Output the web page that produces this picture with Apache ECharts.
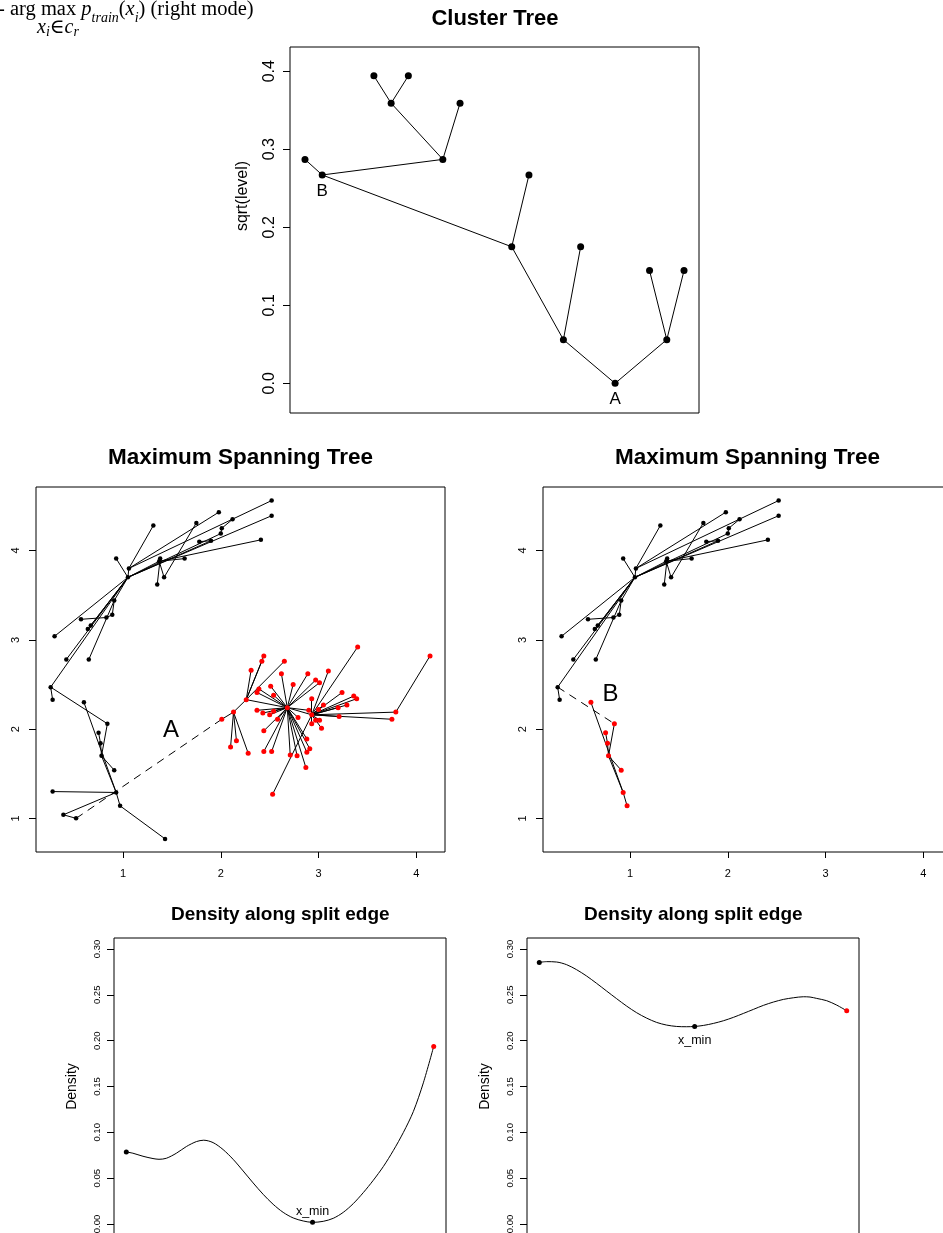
<!DOCTYPE html>
<html>
<head>
<meta charset="utf-8">
<script src="https://cdn.jsdelivr.net/npm/echarts/dist/echarts.min.js"></script>
<style>
  html, body { margin: 0; padding: 0; overflow: hidden; background: #fff; }
  #chart { width: 960px; height: 1300px; }
</style>
</head>
<body>
<div id="chart"></div>
<script>
// ---------------- Cluster tree ----------------
const treeX = [0, 1, 4, 5, 6, 8, 9, 12, 13, 15, 16, 18, 20, 21, 22];
const treeY = [0.287, 0.267, 0.394, 0.359, 0.394, 0.287, 0.359, 0.175, 0.267, 0.056, 0.175, 0.000, 0.1445, 0.056, 0.1445];
const treeEdges = [[0,1],[1,5],[5,3],[3,2],[3,4],[5,6],[1,7],[7,8],[7,9],[9,10],[9,11],[11,13],[13,12],[13,14]];
const treeNodeNames = { 1: 'B', 11: 'A' };
const treeTicks = [0, 0.1, 0.2, 0.3, 0.4];

// ---------------- Maximum spanning tree ----------------
// Points of the upper-left cluster (0-29) and its lower branch (30-41)
const mstBlack = [
  [1.05,3.70],[1.37,3.88],[2.52,4.56],[2.52,4.39],[2.41,4.12],[1.98,4.43],[2.12,4.35],[2.01,4.25],
  [2.00,4.19],[1.90,4.11],[1.78,4.10],[1.75,4.31],[1.63,3.91],[1.31,4.28],[1.38,3.91],[1.42,3.70],
  [1.35,3.62],[0.93,3.91],[1.06,3.80],[0.91,3.44],[0.89,3.28],[0.83,3.25],[0.57,3.23],[0.67,3.16],
  [0.64,3.12],[0.30,3.04],[0.42,2.78],[0.65,2.78],[0.26,2.47],[0.28,2.33],
  [0.60,2.30],[0.84,2.06],[0.75,1.96],[0.77,1.84],[0.78,1.70],[0.91,1.54],[0.93,1.29],[0.97,1.14],
  [0.28,1.30],[0.39,1.04],[0.52,1.00],[1.43,0.77]
];
// Points of the right-hand cluster
const mstRed = [
  [2.01,2.11],[2.13,2.19],[2.10,1.80],[2.16,1.87],[2.28,1.73],[2.26,2.33],[2.31,2.66],[2.42,2.76],
  [2.44,2.82],[2.65,2.76],[2.62,2.62],[2.51,2.48],[2.39,2.45],[2.37,2.41],[2.54,2.38],[2.68,2.24],
  [2.37,2.21],[2.43,2.18],[2.50,2.16],[2.54,2.20],[2.58,2.11],[2.44,1.98],[2.44,1.75],[2.52,1.75],
  [2.71,1.71],[2.78,1.70],[2.74,2.50],[2.89,2.62],[2.97,2.55],[3.01,2.52],[2.79,2.13],[2.90,2.21],
  [2.93,2.34],[2.88,1.89],[2.91,1.78],[2.88,1.74],[2.87,1.57],[2.53,1.27],[2.93,2.16],[2.97,2.10],
  [3.01,2.10],[3.03,2.01],[3.05,2.27],[3.00,2.22],[2.93,2.06],[3.40,2.92],[4.14,2.82],[3.10,2.65],
  [3.24,2.41],[3.36,2.37],[3.39,2.34],[3.29,2.27],[3.20,2.24],[3.21,2.14],[3.79,2.19],[3.75,2.11]
];
const upperEdges = [
  [0,1],[18,2],[0,3],[1,4],[18,5],[6,7],[7,8],[0,8],[10,9],[0,9],[11,15],[15,1],[1,12],[13,18],
  [14,1],[16,14],[17,0],[18,0],[19,0],[20,19],[21,20],[22,21],[23,0],[24,0],[25,0],[26,0],[27,19],
  [28,0],[28,29]
];
const lowerEdges = [[30,36],[31,34],[32,33],[33,34],[34,35],[34,36],[36,37],[36,38],[37,41],[36,39],[39,40]];
const redEdges = [
  [0,1],[1,2],[1,3],[1,4],[1,5],[5,6],[5,7],[5,8],[5,9],[5,15],
  [15,10],[15,11],[15,12],[15,13],[15,14],[15,16],[15,17],[15,18],[15,19],[15,20],[15,21],[15,22],
  [15,23],[15,24],[15,25],[15,26],[15,27],[15,28],[15,29],[15,30],[15,31],[15,38],[15,33],[15,34],
  [15,35],[15,36],
  [38,32],[38,37],[38,39],[38,40],[38,41],[38,42],[38,43],[38,44],[38,45],[38,47],[38,48],[38,49],
  [38,50],[38,51],[38,52],[38,53],[38,54],[38,55],[54,46]
];
const splitEdgeA = [40, 0];   // black point -> red point
const splitEdgeB = [28, 31];  // within the black cluster
const branchStart = 30, branchEnd = 38; // branch split off by edge B
const mstTicks = [1, 2, 3, 4];
const edgeNameA = [1.49, 1.98];
const edgeNameB = [0.80, 2.39];

// ---------------- Density along split edge ----------------
const densLeftT = [0,0.0217,0.0543,0.0869,0.1064,0.1303,0.1629,0.1954,0.2280,0.2519,0.2823,0.3149,0.3474,
  0.3800,0.4126,0.4452,0.4777,0.5103,0.5429,0.5755,0.6059,0.6406,0.6732,0.7058,0.7383,0.7709,0.8035,
  0.8360,0.8686,0.9012,0.9338,0.9663,1.0];
const densLeftD = [0.0786,0.0772,0.0739,0.0714,0.0706,0.0717,0.0772,0.0845,0.0899,0.0914,0.0888,0.0812,
  0.0706,0.0579,0.0448,0.0324,0.0215,0.0127,0.0066,0.0033,0.0018,0.0029,0.0062,0.0127,0.0222,0.0342,
  0.0477,0.0626,0.0801,0.0998,0.1227,0.1540,0.1937];
const densLeftMin = 20;
const densRightT = [0,0.0239,0.0564,0.0889,0.1215,0.1540,0.1866,0.2191,0.2516,0.2842,0.3167,0.3492,
  0.3818,0.4143,0.4469,0.4794,0.5054,0.5336,0.5662,0.5987,0.6312,0.6638,0.6963,0.7289,0.7614,0.7939,
  0.8265,0.8590,0.8807,0.9024,0.9349,0.9675,1.0];
const densRightD = [0.2854,0.2862,0.2858,0.2829,0.2774,0.2705,0.2625,0.2541,0.2458,0.2377,0.2305,0.2246,
  0.2199,0.2170,0.2155,0.2152,0.2155,0.2166,0.2188,0.2217,0.2254,0.2297,0.2341,0.2385,0.2421,0.2450,
  0.2468,0.2479,0.2476,0.2461,0.2436,0.2388,0.2326];
const densRightMin = 16;
const densTicks = [0, 0.05, 0.10, 0.15, 0.20, 0.25, 0.30];

// ---------------- helpers ----------------
const SANS = '"Liberation Sans", Arial, Helvetica, sans-serif';
const SERIF = '"Liberation Serif", "DejaVu Serif", "Times New Roman", serif';

function yAxisDef(grid, min, max, ticks, fmt, fontSize, margin, extra) {
  return Object.assign({
    type: 'value', gridIndex: grid, min: min, max: max,
    axisLine: { show: false, onZero: false }, splitLine: { show: false },
    axisTick: { show: true, customValues: ticks, length: 7, lineStyle: { color: '#000', width: 1 } },
    axisLabel: { show: true, customValues: ticks, formatter: fmt, rotate: 90, fontSize: fontSize,
                 margin: margin, color: '#000', fontFamily: SANS }
  }, extra || {});
}
function xAxisDef(grid, min, max, ticks, fontSize, margin) {
  const shown = !!ticks;
  return {
    type: 'value', gridIndex: grid, min: min, max: max,
    axisLine: { show: false, onZero: false }, splitLine: { show: false },
    axisTick: { show: shown, customValues: ticks || [], length: 6, lineStyle: { color: '#000', width: 1 } },
    axisLabel: { show: shown, customValues: ticks || [], fontSize: fontSize, margin: margin,
                 color: '#000', fontFamily: SANS }
  };
}
function segs(points, edges) {
  return edges.map(e => ({ coords: [points[e[0]], points[e[1]]] }));
}
function linesSeries(ax, data, dashed) {
  return {
    type: 'lines', coordinateSystem: 'cartesian2d', xAxisIndex: ax, yAxisIndex: ax,
    data: data, silent: true, z: 2,
    lineStyle: { color: '#000', width: 1, opacity: 1, type: dashed ? [8, 6] : 'solid' }
  };
}
function pointSeries(ax, data, color, size) {
  return {
    type: 'scatter', xAxisIndex: ax, yAxisIndex: ax, data: data, silent: true, z: 3,
    symbol: 'circle', symbolSize: size, itemStyle: { color: color, opacity: 1 }
  };
}

// ---------------- series ----------------
const series = [];

// Cluster tree
const treePts = treeX.map((x, i) => [x, treeY[i]]);
series.push(linesSeries(0, segs(treePts, treeEdges), false));
series.push({
  type: 'scatter', xAxisIndex: 0, yAxisIndex: 0, silent: true, z: 3,
  symbol: 'circle', symbolSize: 7, itemStyle: { color: '#000', opacity: 1 },
  data: treePts.map((p, i) => treeNodeNames[i] ? {
    value: p,
    label: { show: true, formatter: treeNodeNames[i], position: 'bottom', distance: 4,
             fontSize: 17, color: '#000', fontFamily: SANS }
  } : { value: p })
});

// Left MST: full cluster, split edge A dashed
series.push(linesSeries(1, segs(mstBlack, upperEdges.concat([splitEdgeB], lowerEdges)), false));
series.push(linesSeries(1, segs(mstRed, redEdges), false));
series.push(linesSeries(1, [{ coords: [mstBlack[splitEdgeA[0]], mstRed[splitEdgeA[1]]] }], true));
series.push(pointSeries(1, mstBlack, '#000', 4.5));
series.push(pointSeries(1, mstRed, '#ff0000', 5));

// Right MST: black cluster only, split edge B dashed
const rightBlack = mstBlack.slice(0, branchStart);
const rightRed = mstBlack.slice(branchStart, branchEnd);
const rightLower = lowerEdges.filter(e => e[0] < branchEnd && e[1] < branchEnd);
series.push(linesSeries(2, segs(mstBlack, upperEdges.concat(rightLower)), false));
series.push(linesSeries(2, segs(mstBlack, [splitEdgeB]), true));
series.push(pointSeries(2, rightBlack, '#000', 4.5));
series.push(pointSeries(2, rightRed, '#ff0000', 5));

// Edge names
function nameSeries(ax, pos, text) {
  return {
    type: 'scatter', xAxisIndex: ax, yAxisIndex: ax, silent: true, z: 4,
    symbolSize: 0, data: [pos], itemStyle: { opacity: 1 },
    label: { show: true, position: 'inside', formatter: text, fontSize: 24, color: '#000', fontFamily: SANS }
  };
}
series.push(nameSeries(1, edgeNameA, 'A'));
series.push(nameSeries(2, edgeNameB, 'B'));

// Density curves
function densitySeries(ax, ts, ds, minIdx, labelPos, labelDist) {
  const pts = ts.map((t, i) => [t, ds[i]]);
  const last = pts.length - 1;
  return [
    { type: 'line', xAxisIndex: ax, yAxisIndex: ax, data: pts, smooth: 0.3, showSymbol: false,
      symbol: 'none', silent: true, z: 2, lineStyle: { color: '#000', width: 1 } },
    { type: 'scatter', xAxisIndex: ax, yAxisIndex: ax, silent: true, z: 3, symbolSize: 5,
      itemStyle: { opacity: 1 },
      data: [
        { value: pts[0], itemStyle: { color: '#000' } },
        { value: pts[minIdx], itemStyle: { color: '#000' },
          label: { show: true, formatter: 'x_min', position: labelPos, distance: labelDist,
                   fontSize: 12.5, color: '#000', fontFamily: SANS } },
        { value: pts[last], itemStyle: { color: '#ff0000' } }
      ] }
  ];
}
series.push(...densitySeries(3, densLeftT, densLeftD, densLeftMin, 'top', 2));
series.push(...densitySeries(4, densRightT, densRightD, densRightMin, 'bottom', 5));

// ---------------- layout ----------------
const gridStyle = { show: true, borderColor: '#000', borderWidth: 1, backgroundColor: 'transparent' };
const grids = [
  Object.assign({ left: 290, top: 47, width: 409, height: 366 }, gridStyle),
  Object.assign({ left: 36, top: 487, width: 409, height: 365 }, gridStyle),
  Object.assign({ left: 543, top: 487, width: 409, height: 365 }, gridStyle),
  Object.assign({ left: 114, top: 938, width: 332, height: 297 }, gridStyle),
  Object.assign({ left: 527, top: 938, width: 332, height: 297 }, gridStyle)
];

const xAxes = [
  { type: 'value', gridIndex: 0, min: -0.87, max: 22.87, show: false, axisLine: { onZero: false } },
  xAxisDef(1, 0.11, 4.293, mstTicks, 11, 16),
  xAxisDef(2, 0.11, 4.293, mstTicks, 11, 16),
  { type: 'value', gridIndex: 3, min: -0.04, max: 1.04, show: false, axisLine: { onZero: false } },
  { type: 'value', gridIndex: 4, min: -0.04, max: 1.04, show: false, axisLine: { onZero: false } }
];
const nameStyle = (fs) => ({ fontSize: fs, color: '#000', fontFamily: SANS });
const yAxes = [
  yAxisDef(0, -0.038, 0.431, treeTicks, v => v.toFixed(1), 16, 12.5),
  yAxisDef(1, 0.623, 4.712, mstTicks, v => String(v), 11, 15),
  yAxisDef(2, 0.623, 4.712, mstTicks, v => String(v), 11, 15),
  yAxisDef(3, -0.012, 0.312, densTicks, v => v.toFixed(2), 9.5, 12,
           { name: 'Density', nameLocation: 'middle', nameGap: 35, nameTextStyle: nameStyle(14) }),
  yAxisDef(4, -0.012, 0.312, densTicks, v => v.toFixed(2), 9.5, 12,
           { name: 'Density', nameLocation: 'middle', nameGap: 35, nameTextStyle: nameStyle(14) })
];

function titleText(text, cx, cy, fs) {
  return { type: 'text', x: cx, y: cy, silent: true,
           style: { text: text, fontSize: fs, fontWeight: 'bold', fontFamily: SANS, fill: '#000',
                    textAlign: 'center', textVerticalAlign: 'middle' } };
}

const graphic = [
  titleText('Cluster Tree', 495, 18.5, 22),
  titleText('Maximum Spanning Tree', 240.5, 458, 22.5),
  titleText('Maximum Spanning Tree', 747.5, 458, 22.5),
  titleText('Density along split edge', 280.3, 914.3, 19),
  titleText('Density along split edge', 693.3, 914.3, 19),
  // y-axis title of the cluster tree
  { type: 'text', x: 243, y: 196, rotation: Math.PI / 2, silent: true,
    style: { text: 'sqrt(level)', fontSize: 16, fontFamily: SANS, fill: '#000',
             textAlign: 'center', textVerticalAlign: 'middle' } },
  // formula fragment at the top-left corner
  { type: 'text', x: -2, y: -5, silent: true,
    style: {
      text: '{r|- arg max }{i|p}{s|train}{r|(}{i|x}{s|i}{r|) (right mode)}',
      fill: '#000',
      rich: {
        r: { fontFamily: SERIF, fontSize: 20.5, lineHeight: 30, verticalAlign: 'middle' },
        i: { fontFamily: SERIF, fontSize: 20.5, fontStyle: 'italic', lineHeight: 30, verticalAlign: 'middle' },
        s: { fontFamily: SERIF, fontSize: 14, fontStyle: 'italic', lineHeight: 30, verticalAlign: 'bottom' }
      }
    } },
  { type: 'text', x: 37, y: 17, silent: true,
    style: {
      text: '{i|x}{s|i}{r|∈}{i|c}{s|r}',
      fill: '#000',
      rich: {
        r: { fontFamily: SERIF, fontSize: 20, lineHeight: 22, verticalAlign: 'middle' },
        i: { fontFamily: SERIF, fontSize: 20, fontStyle: 'italic', lineHeight: 22, verticalAlign: 'middle' },
        s: { fontFamily: SERIF, fontSize: 14, fontStyle: 'italic', lineHeight: 22, verticalAlign: 'bottom' }
      }
    } }
];

const chart = echarts.init(document.getElementById('chart'), null, { renderer: 'canvas' });
chart.setOption({
  animation: false,
  backgroundColor: '#fff',
  textStyle: { fontFamily: SANS, color: '#000' },
  grid: grids,
  xAxis: xAxes,
  yAxis: yAxes,
  series: series,
  graphic: graphic
});
</script>
</body>
</html>
